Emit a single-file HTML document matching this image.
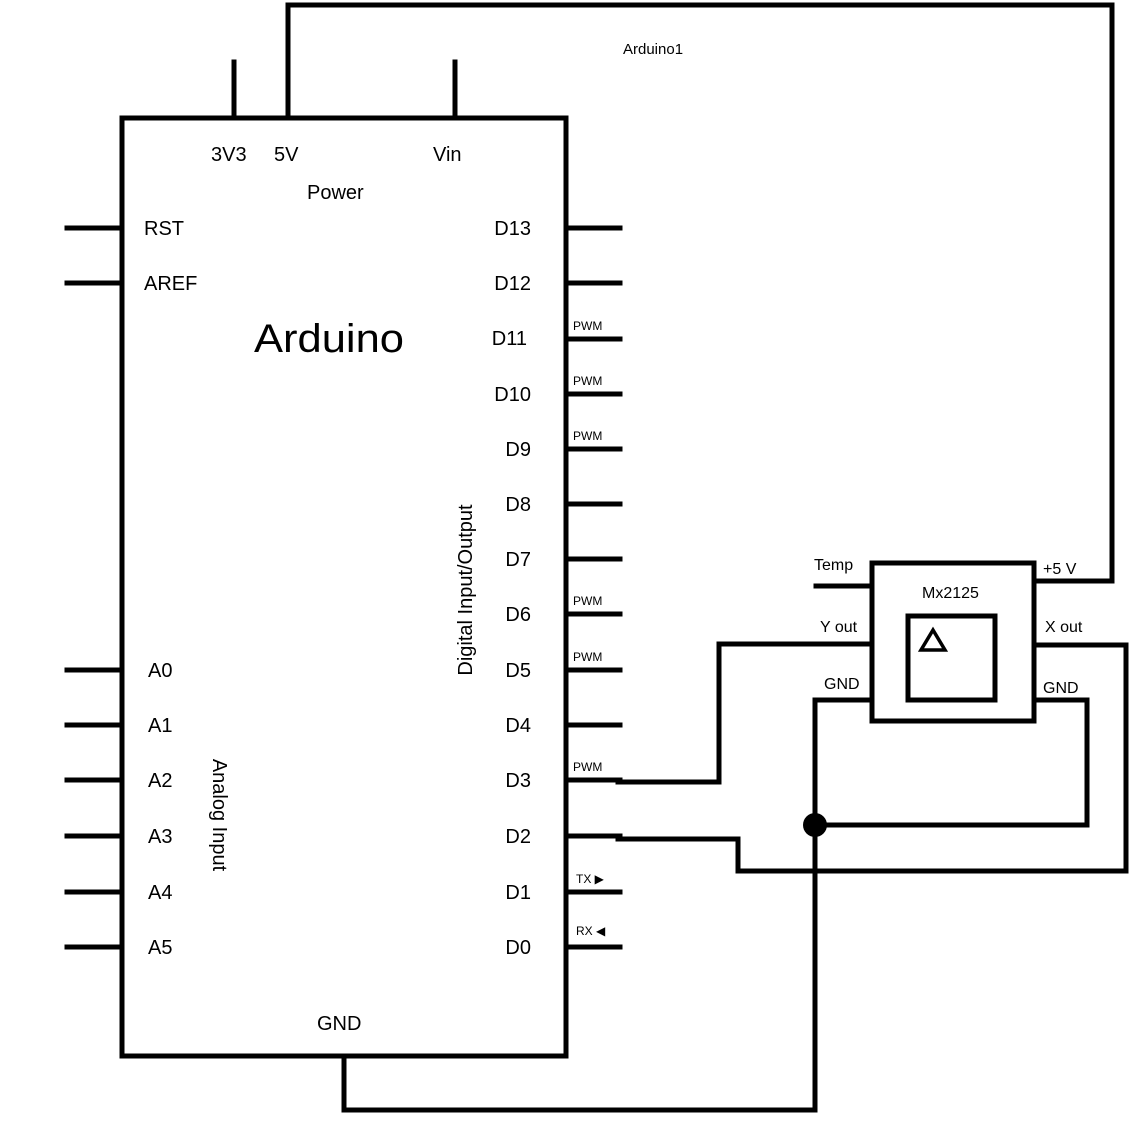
<!DOCTYPE html>
<html><head><style>body{margin:0;background:#fff}svg{display:block}</style></head><body>
<svg width="1129" height="1129" viewBox="0 0 1129 1129" xmlns="http://www.w3.org/2000/svg" font-family="Liberation Sans, sans-serif">
<g stroke="#000" stroke-width="5" fill="none" stroke-linecap="square">
<rect x="122" y="118" width="444" height="938"/>
<line x1="234" y1="62" x2="234" y2="116"/>
<line x1="455" y1="62" x2="455" y2="116"/>
<polyline points="288,116 288,5 1112,5 1112,581 1035,581"/>
<g>
<line x1="67" y1="228" x2="120" y2="228"/><line x1="67" y1="283" x2="120" y2="283"/>
<line x1="67" y1="670" x2="120" y2="670"/><line x1="67" y1="725" x2="120" y2="725"/>
<line x1="67" y1="780" x2="120" y2="780"/><line x1="67" y1="836" x2="120" y2="836"/>
<line x1="67" y1="892" x2="120" y2="892"/><line x1="67" y1="947" x2="120" y2="947"/>
</g>
<g>
<line x1="568" y1="228" x2="620" y2="228"/><line x1="568" y1="283" x2="620" y2="283"/>
<line x1="568" y1="339" x2="620" y2="339"/><line x1="568" y1="394" x2="620" y2="394"/>
<line x1="568" y1="449" x2="620" y2="449"/><line x1="568" y1="504" x2="620" y2="504"/>
<line x1="568" y1="559" x2="620" y2="559"/><line x1="568" y1="614" x2="620" y2="614"/>
<line x1="568" y1="670" x2="620" y2="670"/><line x1="568" y1="725" x2="620" y2="725"/>
<line x1="568" y1="780" x2="620" y2="780"/><line x1="568" y1="836" x2="620" y2="836"/>
<line x1="568" y1="892" x2="620" y2="892"/><line x1="568" y1="947" x2="620" y2="947"/>
</g>
<polyline points="618,782 719,782 719,644 872,644"/>
<polyline points="618,839 738,839 738,871 1126,871 1126,645 1035,645"/>
<polyline points="344,1058 344,1110 815,1110 815,700 872,700"/>
<polyline points="815,825 1087,825 1087,700 1035,700"/>
<line x1="816" y1="586" x2="872" y2="586"/>
<rect x="872" y="563" width="162" height="158"/>
<rect x="908" y="616" width="87" height="84"/>
<polygon points="933,630 921,650 945,650" stroke-width="3.5"/>
</g>
<circle cx="815" cy="825" r="12" fill="#000"/>
<g font-size="20" fill="#000">
<text x="211" y="161">3V3</text><text x="274" y="161">5V</text><text x="433" y="161">Vin</text>
<text x="307" y="199">Power</text>
<text x="144" y="235">RST</text><text x="144" y="290">AREF</text>
<text x="254" y="352" font-size="40" textLength="150" lengthAdjust="spacingAndGlyphs">Arduino</text>
<g text-anchor="end">
<text x="531" y="235">D13</text><text x="531" y="290">D12</text><text x="527" y="345">D11</text>
<text x="531" y="401">D10</text><text x="531" y="456">D9</text><text x="531" y="511">D8</text>
<text x="531" y="566">D7</text><text x="531" y="621">D6</text><text x="531" y="677">D5</text>
<text x="531" y="732">D4</text><text x="531" y="787">D3</text><text x="531" y="843">D2</text>
<text x="531" y="899">D1</text><text x="531" y="954">D0</text>
</g>
<g><text x="148" y="677">A0</text><text x="148" y="732">A1</text><text x="148" y="787">A2</text>
<text x="148" y="843">A3</text><text x="148" y="899">A4</text><text x="148" y="954">A5</text></g>
<text transform="translate(472,590) rotate(-90)" text-anchor="middle">Digital Input/Output</text>
<text transform="translate(213,815) rotate(90)" text-anchor="middle">Analog Input</text>
<text x="317" y="1030">GND</text>
</g>
<g font-size="12" fill="#000">
<text x="573" y="330">PWM</text><text x="573" y="385">PWM</text><text x="573" y="440">PWM</text>
<text x="573" y="605">PWM</text><text x="573" y="661">PWM</text><text x="573" y="771">PWM</text>
<text x="576" y="883">TX ▶</text><text x="576" y="935">RX ◀</text>
</g>
<g font-size="16" fill="#000">
<text x="623" y="54" font-size="15">Arduino1</text>
<text x="814" y="570">Temp</text><text x="1043" y="574">+5 V</text>
<text x="922" y="598">Mx2125</text>
<text x="820" y="632">Y out</text><text x="1045" y="632">X out</text>
<text x="824" y="689">GND</text><text x="1043" y="693">GND</text>
</g>
</svg>
</body></html>
